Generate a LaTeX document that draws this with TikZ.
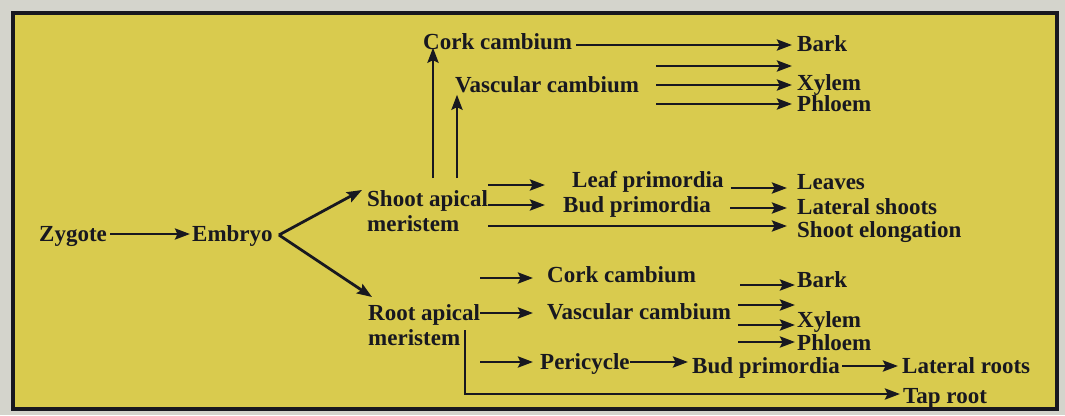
\documentclass[tikz,border=0pt]{standalone}
\usepackage{fontspec}
\setmainfont{Liberation Serif}
\usetikzlibrary{arrows.meta,calc}
\definecolor{paper}{RGB}{212,212,204}
\definecolor{hl}{RGB}{217,203,78}
\definecolor{ink}{RGB}{24,24,32}
\begin{document}
\begin{tikzpicture}[x=1pt,y=-1pt,
  lbl/.style={font=\bfseries\fontsize{23}{25}\selectfont, text=ink, inner sep=0pt, anchor=west, text height=15pt, text depth=0pt},
  lbltwo/.style={font=\bfseries\fontsize{23}{25}\selectfont, text=ink, inner sep=0pt, anchor=north west, align=left},
  arr/.style={draw=ink, line width=2.8pt, -{Stealth[length=15pt,width=11pt,inset=2.5pt]}}]
\useasboundingbox (0,0) rectangle (1065,415);
\fill[paper] (0,0) rectangle (1065,415);
\draw[fill=hl, draw=ink, line width=4pt] (13,13) rectangle (1057,409);

\node[lbl] (zyg) at (39,234) {Zygote};
\node[lbl] (emb) at (192,234) {Embryo};
\node[lbltwo] (sam) at (367,190) {Shoot apical\\meristem};
\node[lbltwo] (ram) at (368,304) {Root apical\\meristem};
\node[lbl] (ck1) at (423,42) {Cork cambium};
\node[lbl] (vc1) at (455,85) {Vascular cambium};
\node[lbl] (bark1) at (797,44) {Bark};
\node[lbl] (xy1) at (797,83) {Xylem};
\node[lbl] (ph1) at (797,104) {Phloem};
\node[lbl] (lp) at (572,180) {Leaf primordia};
\node[lbl] (bp1) at (563,205) {Bud primordia};
\node[lbl] (lv) at (797,182) {Leaves};
\node[lbl] (ls) at (797,207) {Lateral shoots};
\node[lbl] (se) at (797,230) {Shoot elongation};
\node[lbl] (ck2) at (547,275) {Cork cambium};
\node[lbl] (vc2) at (547,312) {Vascular cambium};
\node[lbl] (bark2) at (797,280) {Bark};
\node[lbl] (xy2) at (797,320) {Xylem};
\node[lbl] (ph2) at (797,343) {Phloem};
\node[lbl] (per) at (540,362) {Pericycle};
\node[lbl] (bp2) at (692,366) {Bud primordia};
\node[lbl] (lr) at (902,366) {Lateral roots};
\node[lbl] (tr) at (903,396) {Tap root};

% zygote -> embryo -> meristems
\draw[arr, shorten <=3pt, shorten >=2pt] (zyg.east) -- (emb.west);
\coordinate (fork) at ($(emb.east)+(6,1)$);
\draw[arr] (fork) -- ($(sam.north west)+(-5,0)$);
\draw[arr] (fork) -- ($(ram.north west)+(4,-7)$);

% shoot: vertical arrows
\draw[arr] ($(sam.north west)+(66,-12)$) -- ($(ck1.south west)+(10,-2)$);
\draw[arr] ($(sam.north west)+(90,-12)$) -- ($(vc1.south west)+(2,2)$);

% shoot: cambia products
\coordinate (c1s) at ($(ck1.east)+(4,3)$);
\draw[arr, shorten >=5pt] (c1s) -- (c1s -| bark1.west);
\coordinate (v1a) at ($(vc1.east)+(17,-19)$);
\coordinate (v1b) at ($(vc1.east)+(17,0)$);
\coordinate (v1c) at ($(vc1.east)+(17,19)$);
\draw[arr, shorten >=5pt] (v1a) -- (v1a -| xy1.west);
\draw[arr, shorten >=5pt] (v1b) -- (v1b -| xy1.west);
\draw[arr, shorten >=5pt] (v1c) -- (v1c -| ph1.west);

% shoot: primordia
\coordinate (s1) at ($(sam.north east)+(0,-5)$);
\coordinate (s2) at ($(sam.north east)+(0,15)$);
\coordinate (s3) at ($(sam.north east)+(0,36)$);
\draw[arr, shorten >=27pt] (s1) -- (s1 -| lp.west);
\draw[arr, shorten >=18pt] (s2) -- (s2 -| bp1.west);
\draw[arr, shorten >=10pt] (s3) -- (s3 -| se.west);
\coordinate (l1) at ($(lp.east)+(7,8)$);
\draw[arr, shorten >=10pt] (l1) -- (l1 -| lv.west);
\coordinate (b1) at ($(bp1.east)+(19,3)$);
\draw[arr, shorten >=10pt] (b1) -- (b1 -| ls.west);

% root
\coordinate (r1) at ($(ram.north east)+(0,-26)$);
\coordinate (r2) at ($(ram.north east)+(0,9)$);
\coordinate (r3) at ($(ram.north east)+(0,58)$);
\draw[arr, shorten >=14pt] (r1) -- (r1 -| ck2.west);
\draw[arr, shorten >=14pt] (r2) -- (r2 -| vc2.west);
\draw[arr, shorten >=7pt] (r3) -- (r3 -| per.west);
\draw[arr, shorten >=4pt] (per.east) -- (per.east -| bp2.west);
\draw[arr, shorten <=2pt, shorten >=4pt] (bp2.east) -- (bp2.east -| lr.west);
\coordinate (k2) at ($(ck2.east)+(44,10)$);
\draw[arr, shorten >=2pt] (k2) -- (k2 -| bark2.west);
\coordinate (w1) at ($(vc2.east)+(7,-7)$);
\coordinate (w2) at ($(vc2.east)+(7,13)$);
\coordinate (w3) at ($(vc2.east)+(7,30)$);
\draw[arr, shorten >=2pt] (w1) -- (w1 -| xy2.west);
\draw[arr, shorten >=2pt] (w2) -- (w2 -| xy2.west);
\draw[arr, shorten >=2pt] (w3) -- (w3 -| ph2.west);
\coordinate (t0) at ($(ram.north west)+(97,26)$);
\draw[arr, shorten >=3pt] (t0) |- ($(tr.west)+(0,-2)$);
\end{tikzpicture}
\end{document}
